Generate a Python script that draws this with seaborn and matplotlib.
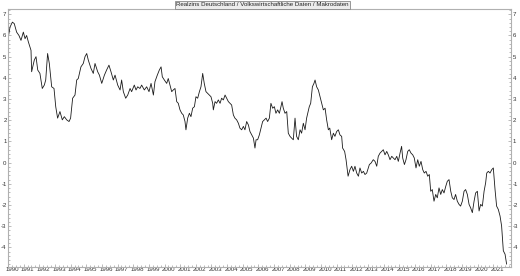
import matplotlib
matplotlib.use("Agg")
import matplotlib.pyplot as plt
import matplotlib.transforms as mtransforms
from matplotlib.ticker import MultipleLocator
import seaborn as sns
import pandas as pd
import numpy as np

title = "Realzins Deutschland / Volkswirtschaftliche Daten / Makrodaten"

years = [
    1990.00, 1990.02, 1990.13, 1990.28, 1990.40, 1990.55, 1990.70, 1990.83, 1990.98, 1991.09,
    1991.19, 1991.30, 1991.47, 1991.51, 1991.68, 1991.79, 1991.90, 1992.04, 1992.19, 1992.32,
    1992.41, 1992.53, 1992.64, 1992.79, 1992.94, 1993.05, 1993.17, 1993.32, 1993.47, 1993.60,
    1993.75, 1993.90, 1994.00, 1994.13, 1994.28, 1994.39, 1994.49, 1994.66, 1994.81, 1994.92,
    1995.03, 1995.13, 1995.30, 1995.45, 1995.56, 1995.73, 1995.84, 1995.99, 1996.16, 1996.30,
    1996.45, 1996.58, 1996.73, 1996.84, 1997.01, 1997.16, 1997.26, 1997.37, 1997.52, 1997.65,
    1997.80, 1997.90, 1998.07, 1998.18, 1998.29, 1998.43, 1998.54, 1998.71, 1998.86, 1999.01,
    1999.14, 1999.29, 1999.39, 1999.54, 1999.67, 1999.78, 1999.86, 1999.99, 2000.14, 2000.24,
    2000.46, 2000.56, 2000.67, 2000.78, 2000.88, 2000.99, 2001.10, 2001.20, 2001.31, 2001.37,
    2001.48, 2001.59, 2001.69, 2001.80, 2001.91, 2002.01, 2002.12, 2002.23, 2002.33, 2002.44,
    2002.54, 2002.65, 2002.76, 2002.86, 2002.97, 2003.08, 2003.12, 2003.23, 2003.33, 2003.44,
    2003.55, 2003.65, 2003.76, 2003.87, 2003.97, 2004.08, 2004.19, 2004.29, 2004.40, 2004.50,
    2004.61, 2004.72, 2004.82, 2004.93, 2005.04, 2005.14, 2005.25, 2005.36, 2005.46, 2005.57,
    2005.68, 2005.78, 2005.85, 2005.95, 2006.06, 2006.17, 2006.27, 2006.38, 2006.49, 2006.59,
    2006.70, 2006.80, 2006.91, 2007.02, 2007.12, 2007.23, 2007.34, 2007.44, 2007.51, 2007.59,
    2007.70, 2007.81, 2007.91, 2008.02, 2008.12, 2008.23, 2008.34, 2008.44, 2008.55, 2008.66,
    2008.76, 2008.87, 2008.98, 2009.08, 2009.15, 2009.25, 2009.34, 2009.45, 2009.55, 2009.62,
    2009.72, 2009.83, 2009.94, 2010.04, 2010.15, 2010.26, 2010.36, 2010.47, 2010.56, 2010.68,
    2010.79, 2010.89, 2011.00, 2011.11, 2011.21, 2011.32,
    2011.38, 2011.51, 2011.60, 2011.73, 2011.85, 2011.96, 2012.07, 2012.17, 2012.28, 2012.39,
    2012.49, 2012.60, 2012.71, 2012.81, 2012.92, 2013.09, 2013.20, 2013.34, 2013.45, 2013.56,
    2013.66, 2013.77, 2013.88, 2013.98, 2014.09, 2014.20, 2014.30, 2014.41, 2014.52, 2014.62,
    2014.73, 2014.84, 2014.94, 2015.05, 2015.15, 2015.22, 2015.33, 2015.43, 2015.54, 2015.64,
    2015.75, 2015.86, 2015.96, 2016.07, 2016.18, 2016.28, 2016.39, 2016.50, 2016.60, 2016.71,
    2016.82, 2016.92, 2017.01, 2017.11, 2017.22, 2017.33, 2017.43, 2017.54, 2017.65, 2017.75,
    2017.86, 2017.97, 2018.07, 2018.18, 2018.29, 2018.39, 2018.50, 2018.60, 2018.71, 2018.82,
    2018.92, 2019.03, 2019.14, 2019.24, 2019.35, 2019.46, 2019.56, 2019.67, 2019.78, 2019.88,
    2019.99, 2020.10, 2020.20, 2020.31, 2020.42, 2020.52, 2020.59, 2020.69, 2020.80, 2020.91,
    2021.01, 2021.12, 2021.22, 2021.33, 2021.44, 2021.54, 2021.65, 2021.76, 2021.86,
]

realzins = [
    5.15, 5.93, 6.40, 6.63, 6.56, 6.16, 6.00, 5.77, 6.16, 5.85,
    6.00, 5.70, 5.30, 4.29, 4.84, 5.00, 4.37, 4.21, 3.50, 3.66,
    3.90, 5.15, 4.68, 3.58, 3.50, 2.64, 2.10, 2.41, 2.02, 2.17,
    2.02, 1.94, 2.10, 3.04, 3.19, 3.90, 3.97, 4.52, 4.68, 5.00,
    5.15, 4.84, 4.45, 4.21, 4.68, 4.29, 4.13, 3.74, 4.13, 4.37,
    4.60, 4.29, 3.90, 4.13, 3.66, 3.43, 3.90, 3.35, 3.04, 3.19,
    3.50, 3.35, 3.66, 3.43, 3.58, 3.50, 3.66, 3.43, 3.58, 3.35,
    3.74, 3.19, 3.82, 4.13, 4.37, 4.52, 4.05, 3.90, 3.74, 3.97,
    3.35, 3.43, 3.50, 2.88, 2.80, 2.49, 2.33, 2.25, 1.94, 1.55,
    2.10, 2.33, 2.17, 2.57, 2.64, 3.11, 3.04, 3.35, 3.58, 4.21,
    3.74, 3.35, 3.27, 3.19, 3.11, 2.80, 2.49, 2.88, 2.80, 2.96,
    2.80, 3.04, 2.96, 3.19, 3.04, 2.88, 2.80, 2.72, 2.25, 2.10,
    2.02, 1.86, 1.63, 1.55, 1.71, 1.55, 1.94, 1.78, 1.47, 1.31,
    1.16, 0.69, 1.08, 1.08, 1.31, 1.63, 1.94, 2.02, 2.10, 1.94,
    2.10, 2.80, 2.57, 2.64, 2.33, 2.49, 2.33, 2.64, 2.88, 2.57,
    2.33, 2.41, 1.39, 1.24, 1.16, 1.08, 2.10, 1.24, 1.08, 1.55,
    1.39, 1.86, 1.55, 2.10, 2.33, 2.64, 2.80, 3.58, 3.74, 3.90,
    3.58, 3.43, 3.11, 2.80, 2.49, 2.57, 2.02, 1.55, 1.63, 1.08,
    1.39, 1.24, 1.47, 1.55, 1.31, 1.24,
    0.69, 0.53, 0.14, -0.64, -0.33, -0.17, -0.41, -0.17, -0.49, -0.64,
    -0.25, -0.49, -0.41, -0.56, -0.49, -0.09, -0.02, 0.14, 0.06, -0.17,
    0.30, 0.45, 0.53, 0.61, 0.37, 0.53, 0.37, 0.14, 0.30, 0.22,
    0.14, 0.30, 0.06, 0.45, 0.77, 0.22, -0.09, 0.14, 0.53, 0.61,
    0.45, 0.37, 0.22, -0.25, 0.14, -0.17, 0.06, -0.33, -0.49, -0.41,
    -0.64, -0.56, -1.35, -1.27, -1.82, -1.50, -1.66, -1.19, -1.50, -1.27,
    -1.43, -1.12, -0.88, -0.80, -1.35, -1.66, -1.74, -1.50, -1.82, -1.97,
    -2.05, -1.82, -1.35, -1.27, -1.50, -1.97, -2.13, -2.36, -1.82, -1.43,
    -1.35, -2.28, -1.97, -2.05, -1.35, -0.95, -0.49, -0.41, -0.49, -0.33,
    -0.25, -1.27, -2.05, -2.21, -2.52, -2.99, -4.16, -4.32, -4.79,
]

year_labels = list(range(1990, 2022))
y_ticks = list(range(-4, 8))

df = pd.DataFrame({"Jahr": years, "Realzins": realzins})

sns.set_style("white")
plt.rcParams["font.family"] = ["Liberation Sans", "DejaVu Sans"]

fig = plt.figure(figsize=(5.2, 2.76), dpi=100)
ax = fig.add_axes([8 / 520, 9.5 / 276, 503 / 520, 257.5 / 276])

sns.lineplot(data=df, x="Jahr", y="Realzins", ax=ax, color="#1a1a1a",
             linewidth=0.6, estimator=None, sort=False)

ax.set_xlim(1990.0, 2022.14)
ax.set_ylim(-4.9, 7.25)
ax.set_xlabel("")
ax.set_ylabel("")

ax.set_xticks(year_labels)
ax.set_xticklabels([str(y) for y in year_labels])
ax.xaxis.set_minor_locator(MultipleLocator(0.25))
ax.set_yticks(y_ticks)
ax.set_yticklabels([str(v) for v in y_ticks])
ax.yaxis.set_minor_locator(MultipleLocator(0.2))

for side in ["left", "right", "top", "bottom"]:
    ax.spines[side].set_visible(True)
    ax.spines[side].set_color("#b0b0b0")
    ax.spines[side].set_linewidth(0.8)

ax.tick_params(axis="both", which="both", colors="#a0a0a0", labelcolor="#333333",
               labelsize=4.4, width=0.5)
ax.tick_params(axis="y", which="major", direction="in", length=2, pad=1,
               left=True, right=True, labelleft=True, labelright=True)
ax.tick_params(axis="y", which="minor", direction="in", length=1.2, left=True, right=True)
ax.tick_params(axis="x", which="major", direction="in", length=2.5, pad=0.6, bottom=True)
ax.tick_params(axis="x", which="minor", direction="in", length=1.2, bottom=True)

offset = mtransforms.ScaledTranslation(4 / 100, 0, fig.dpi_scale_trans)
for lab in ax.get_xticklabels():
    lab.set_transform(lab.get_transform() + offset)

fig.text(0.505, 1 - 5 / 276, title, ha="center", va="center", fontsize=4.4,
         color="#222222",
         bbox=dict(boxstyle="square,pad=0.25", facecolor="#ececec",
                   edgecolor="#888888", linewidth=0.6))

fig.savefig("out.png", dpi=100)
